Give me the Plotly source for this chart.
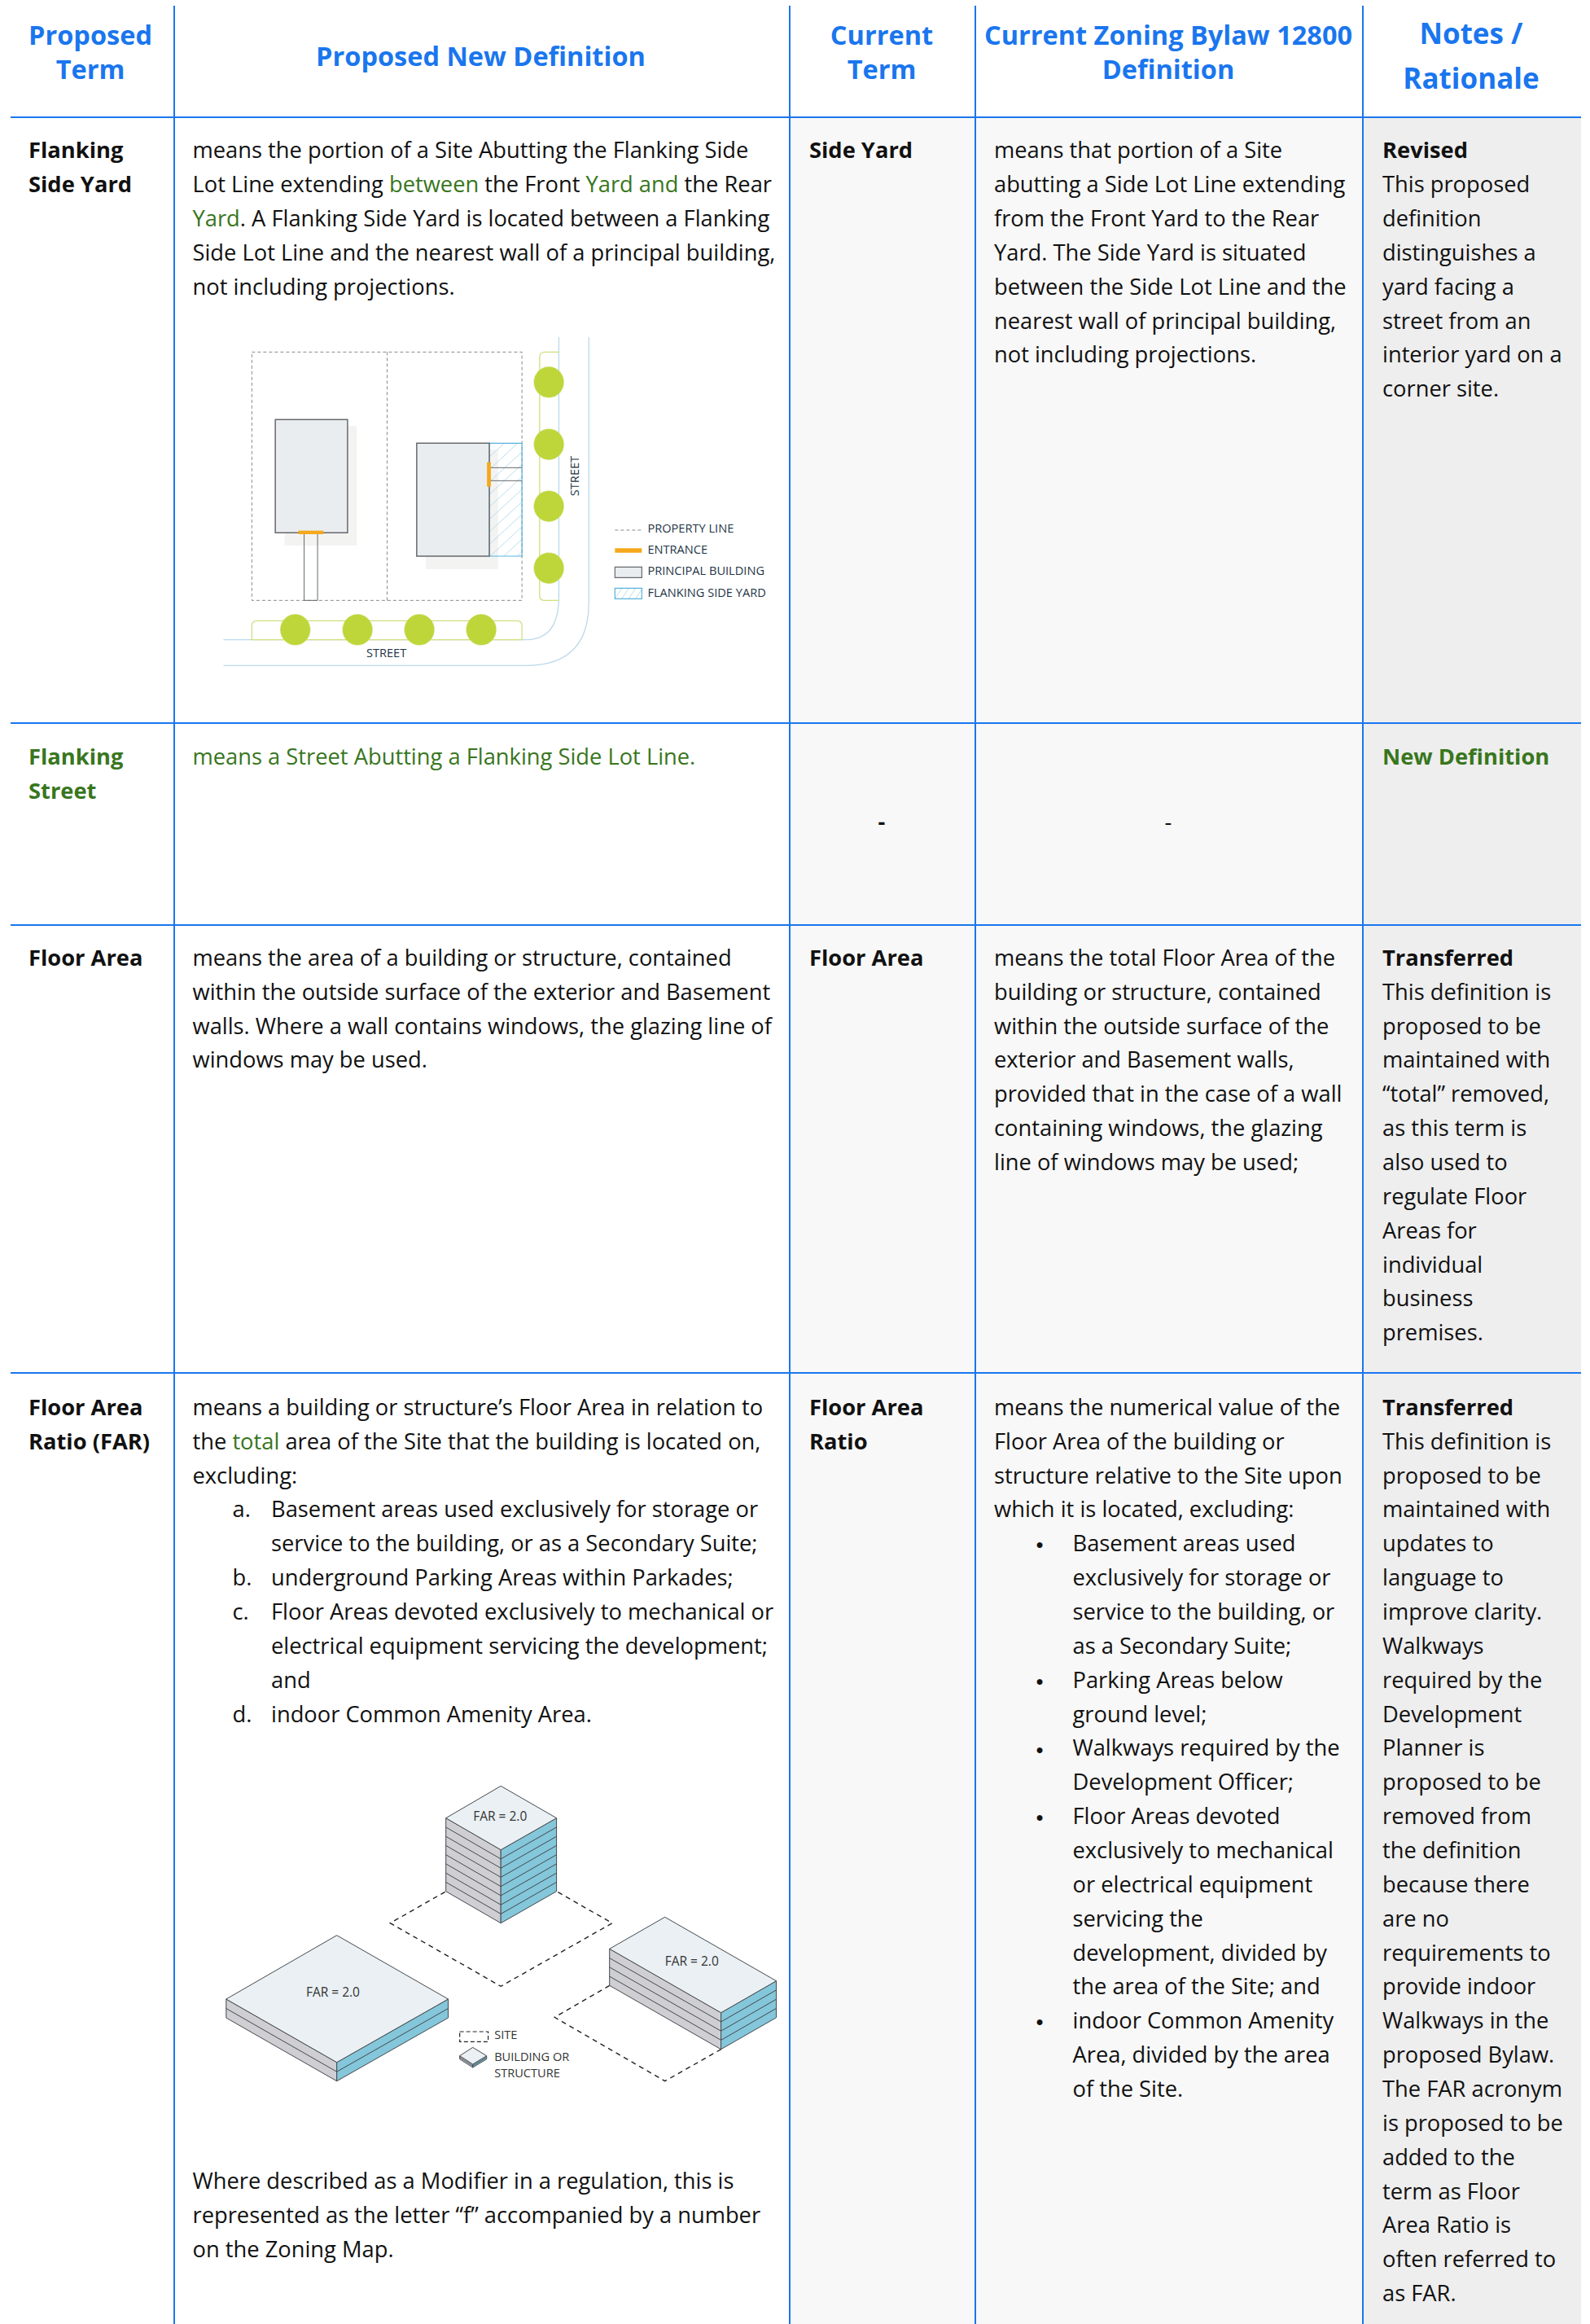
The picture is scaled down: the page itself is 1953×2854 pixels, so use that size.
import plotly.graph_objects as go

# ---------- table content ----------
header_terms = [["Proposed", "Term"], ["Proposed New Definition"], ["Current", "Term"],
                ["Current Zoning Bylaw 12800", "Definition"], ["Notes /", "Rationale"]]
G = '<span style="color:#38761d">'
E = '</span>'
r1_term = ["Flanking", "Side Yard"]
r1_def = ["means the portion of a Site Abutting the Flanking Side",
          f"Lot Line extending {G}between{E} the Front {G}Yard and{E} the Rear",
          f"{G}Yard{E}. A Flanking Side Yard is located between a Flanking",
          "Side Lot Line and the nearest wall of a principal building,",
          "not including projections."]
r1_cur = ["Side Yard"]
r1_curdef = ["means that portion of a Site", "abutting a Side Lot Line extending",
             "from the Front Yard to the Rear", "Yard. The Side Yard is situated",
             "between the Side Lot Line and the", "nearest wall of principal building,",
             "not including projections."]
r1_note_head = "Revised"
r1_note = ["This proposed", "definition", "distinguishes a", "yard facing a", "street from an",
           "interior yard on a", "corner site."]
r2_term = ["Flanking", "Street"]
r2_def = ["means a Street Abutting a Flanking Side Lot Line."]
r2_note_head = "New Definition"
r3_term = ["Floor Area"]
r3_def = ["means the area of a building or structure, contained",
          "within the outside surface of the exterior and Basement",
          "walls. Where a wall contains windows, the glazing line of",
          "windows may be used."]
r3_curdef = ["means the total Floor Area of the", "building or structure, contained",
             "within the outside surface of the", "exterior and Basement walls,",
             "provided that in the case of a wall", "containing windows, the glazing",
             "line of windows may be used;"]
r3_note_head = "Transferred"
r3_note = ["This definition is", "proposed to be", "maintained with", "“total” removed,",
           "as this term is", "also used to", "regulate Floor", "Areas for", "individual",
           "business", "premises."]
r4_term = ["Floor Area", "Ratio (FAR)"]
r4_def = ["means a building or structure’s Floor Area in relation to",
          f"the {G}total{E} area of the Site that the building is located on,",
          "excluding:"]
r4_markers = ["a.", "", "b.", "c.", "", "", "d."]
r4_items = ["Basement areas used exclusively for storage or",
            "service to the building, or as a Secondary Suite;",
            "underground Parking Areas within Parkades;",
            "Floor Areas devoted exclusively to mechanical or",
            "electrical equipment servicing the development;",
            "and", "indoor Common Amenity Area."]
r4_modifier = ["Where described as a Modifier in a regulation, this is",
               "represented as the letter “f” accompanied by a number",
               "on the Zoning Map."]
r4_cur = ["Floor Area", "Ratio"]
r4_curdef = ["means the numerical value of the", "Floor Area of the building or",
             "structure relative to the Site upon", "which it is located, excluding:"]
r4_bullets = ["●", "", "", "", "●", "", "●", "", "●", "", "", "", "", "", "●", "", ""]
r4_bullet_items = ["Basement areas used", "exclusively for storage or", "service to the building, or",
                   "as a Secondary Suite;", "Parking Areas below", "ground level;",
                   "Walkways required by the", "Development Officer;", "Floor Areas devoted",
                   "exclusively to mechanical", "or electrical equipment", "servicing the",
                   "development, divided by", "the area of the Site; and", "indoor Common Amenity",
                   "Area, divided by the area", "of the Site."]
r4_note_head = "Transferred"
r4_note = ["This definition is", "proposed to be", "maintained with", "updates to", "language to",
           "improve clarity.", "Walkways", "required by the", "Development", "Planner is",
           "proposed to be", "removed from", "the definition", "because there", "are no",
           "requirements to", "provide indoor", "Walkways in the", "proposed Bylaw.",
           "The FAR acronym", "is proposed to be", "added to the", "term as Floor",
           "Area Ratio is", "often referred to", "as FAR."]

site_legend = ["PROPERTY LINE", "ENTRANCE", "PRINCIPAL BUILDING", "FLANKING SIDE YARD"]
far_label = "FAR = 2.0"
far_legend = ["SITE", "BUILDING OR", "STRUCTURE"]

# ---------- layout ----------
W, H = 1953, 2854
BLUE = "#1a76ee"; GREEN = "#38761d"; BLACK = "#111111"
V_LINES = [214, 970, 1198, 1674]
H_LINES = [144, 888, 1136, 1686]
LEFT, RIGHT, TOP = 13, 1942, 7
PITCH = 41.86
FS = 27.3
X1, X2, X3, X4, X5 = 35, 236.5, 994, 1221, 1698
ROW = [187.5, 932, 1179, 1731]

shapes = []
def rect(x0, y0, x1, y1, fill="rgba(0,0,0,0)", color="rgba(0,0,0,0)", width=0, dash="solid"):
    shapes.append(dict(type="rect", xref="x", yref="y", x0=x0, y0=y0, x1=x1, y1=y1,
                       fillcolor=fill, line=dict(color=color, width=width, dash=dash), layer="below"))
def path(d, fill=None, color="#444", width=1, dash="solid"):
    s = dict(type="path", xref="x", yref="y", path=d, line=dict(color=color, width=width, dash=dash), layer="below")
    if fill: s["fillcolor"] = fill
    shapes.append(s)
def line(x0, y0, x1, y1, color="#444", width=1, dash="solid"):
    shapes.append(dict(type="line", xref="x", yref="y", x0=x0, y0=y0, x1=x1, y1=y1,
                       line=dict(color=color, width=width, dash=dash), layer="below"))
def ell(cx, cy, rx, ry, fill):
    shapes.append(dict(type="circle", xref="x", yref="y", x0=cx-rx, x1=cx+rx, y0=cy-ry, y1=cy+ry,
                       fillcolor=fill, line=dict(color="#dfe9a8", width=1, dash="dot"), layer="below"))
def poly(pts, fill=None, color="#444", width=1, dash="solid", close=True):
    d = "M" + " L".join(f"{x:.1f},{y:.1f}" for x, y in pts) + (" Z" if close else "")
    path(d, fill, color, width, dash)

# cell backgrounds
rect(970, 144, 1674, H, fill="#f8f8f8")
rect(1674, 144, RIGHT, H, fill="#eeeeee")
# rules
for x in V_LINES:
    line(x, TOP, x, H, BLUE, 2)
for y in H_LINES:
    line(LEFT, y, RIGHT, y, BLUE, 2)

# ---------- site plan ----------
def sx(z): return 240 + z / 2.119
def sy(z): return 400 + z / 3.0
STREET = "#bcd9ec"; BLVD = "#cfe07e"; TREE = "#bed63a"; DASH = "#8a8a8a"; ORANGE = "#f5a81c"; HATCH = "#59b3dd"
WALL = "#666a6e"; BFILL = "#e9edef"; SHADOW = "#f3f3f2"
# streets
path(f"M{sx(946)},{sy(42)} L{sx(946)},{sy(1000)} Q{sx(946)},{sy(1157)} {sx(860)},{sy(1157)} L{sx(73)},{sy(1157)}", None, STREET, 1.3)
path(f"M{sx(1024)},{sy(42)} L{sx(1024)},{sy(1020)} Q{sx(1024)},{sy(1252)} {sx(860)},{sy(1252)} L{sx(73)},{sy(1252)}", None, STREET, 1.3)
# boulevards
path(f"M{sx(946)},{sy(97)} L{sx(910)},{sy(97)} Q{sx(896)},{sy(97)} {sx(896)},{sy(115)} L{sx(896)},{sy(995)} Q{sx(896)},{sy(1012)} {sx(910)},{sy(1012)} L{sx(946)},{sy(1012)}", None, BLVD, 1.3)
path(f"M{sx(147)},{sy(1157)} L{sx(147)},{sy(1105)} Q{sx(147)},{sy(1087)} {sx(162)},{sy(1087)} L{sx(835)},{sy(1087)} Q{sx(850)},{sy(1087)} {sx(850)},{sy(1105)} L{sx(850)},{sy(1157)} Z", None, BLVD, 1.3)
# property lines
rect(sx(147), sy(97), sx(850), sy(1012), color=DASH, width=1, dash="4px,3px")
line(sx(499), sy(97), sx(499), sy(1012), DASH, 1, "4px,3px")
# left building
rect(sx(232), sy(370), sx(420), sy(810), fill=SHADOW)
rect(sx(208), sy(346), sx(396), sy(763), fill=BFILL, color=WALL, width=1.5)
rect(sx(283), sy(763), sx(318), sy(1012), color=WALL, width=1)
rect(sx(268), sy(755), sx(333), sy(768), fill=ORANGE)
# right building
rect(sx(600), sy(457), sx(788), sy(897), fill=SHADOW)
for k in range(-60, 500, 46):
    x_a, y_a = 765, 433 + k + 85 * 1.3
    y_b = 433 + k
    ya = min(max(y_a, 433), 849); yb = min(max(y_b, 433), 849)
    xa = 765 + (433 + k + 110.5 - ya) / 1.3
    xb = 765 + (433 + k + 110.5 - yb) / 1.3
    line(sx(xa), sy(ya), sx(xb), sy(yb), "#a9d6ec", 0.8)
rect(sx(765), sy(433), sx(850), sy(849), color=HATCH, width=1.2)
rect(sx(576), sy(433), sx(765), sy(849), fill=BFILL, color=WALL, width=1.5)
line(sx(765), sy(523), sx(850), sy(523), WALL, 1)
line(sx(765), sy(571), sx(850), sy(571), WALL, 1)
rect(sx(759), sy(503), sx(769), sy(593), fill=ORANGE)
# trees
for cy in [208, 437, 665, 893]:
    ell(sx(920), sy(cy), 18.5, 19, TREE)
for cx in [260, 422, 583, 744]:
    ell(sx(cx), sy(1120), 18.5, 19, TREE)
# legend
line(sx(1092), sy(753), sx(1162), sy(753), DASH, 1, "4px,3px")
rect(sx(1092), sy(820), sx(1162), sy(836), fill=ORANGE)
rect(sx(1092), sy(889), sx(1162), sy(928), fill=BFILL, color=WALL, width=1.2)
for k in range(4):
    line(sx(1092 + k * 18), sy(1006), sx(1092 + 18 + k * 18), sy(967), "#a9d6ec", 0.8)
rect(sx(1092), sy(967), sx(1162), sy(1006), color=HATCH, width=1.2)

# ---------- FAR isometric ----------
def fx(z): return 240 + z / 2.119
def fy(z): return 2170 + z / 3.0
TOPC = "#eaf0f3"; LFACE = "#cfcfd3"; RFACE = "#84c6da"; EDGE = "#45494d"
def iso(t, l, r, b, depth, floors):
    pts = lambda L: [(fx(a), fy(c)) for a, c in L]
    poly(pts([l, b, (b[0], b[1] + depth), (l[0], l[1] + depth)]), LFACE, EDGE, 1)
    poly(pts([b, r, (r[0], r[1] + depth), (b[0], b[1] + depth)]), RFACE, EDGE, 1)
    for i in range(1, floors):
        d = depth * i / floors
        poly(pts([(l[0], l[1] + d), (b[0], b[1] + d), (r[0], r[1] + d)]), None, EDGE, 1, close=False)
    poly(pts([t, r, b, l]), TOPC, EDGE, 1)
sdash = "6px,5px"
dash_pts = lambda L: [(fx(a), fy(c)) for a, c in L]
poly(dash_pts([(650, 460), (507, 575), (795, 808), (1085, 575), (940, 458)]), None, "#222", 1.4, sdash, close=False)
poly(dash_pts([(1078, 805), (935, 922), (1222, 1157), (1368, 1040)]), None, "#222", 1.4, sdash, close=False)
iso((795, 70), (652, 188), (940, 188), (795, 305), 270, 8)
iso((368, 620), (80, 855), (658, 855), (368, 1088), 69, 2)
iso((1222, 553), (1078, 670), (1512, 788), (1368, 905), 135, 4)
rect(fx(688), fy(975), fx(762), fy(1012), color="#222", width=1.2, dash="5px,3px")
iso((722, 1033), (688, 1064), (758, 1064), (722, 1095), 12, 2)

# ---------- text ----------
tx, ty, tt, ts, tc, tp = [], [], [], [], [], []
def put(x, y, s, size=FS, color=BLACK, pos="middle right", bold=False):
    if not s:
        return
    tx.append(x); ty.append(y); tt.append(f"<b>{s}</b>" if bold else s)
    ts.append(size); tc.append(color); tp.append(pos)
def block(x, y0, lines, **kw):
    for i, s in enumerate(lines):
        put(x, y0 + i * PITCH, s, **kw)

HFS = 32.5
block(111, 47, header_terms[0], size=HFS, color=BLUE, pos="middle center", bold=True)
block(590.5, 72.5, header_terms[1], size=HFS, color=BLUE, pos="middle center", bold=True)
block(1083, 47, header_terms[2], size=HFS, color=BLUE, pos="middle center", bold=True)
block(1435, 47, header_terms[3], size=HFS, color=BLUE, pos="middle center", bold=True)
put(1807, 45.5, header_terms[4][0], size=35, color=BLUE, pos="middle center", bold=True)
put(1807, 100, header_terms[4][1], size=35, color=BLUE, pos="middle center", bold=True)

block(X1, ROW[0], r1_term, bold=True)
block(X2, ROW[0], r1_def)
block(X3, ROW[0], r1_cur, bold=True)
block(X4, ROW[0], r1_curdef)
put(X5, ROW[0], r1_note_head, bold=True)
block(X5, ROW[0] + PITCH, r1_note)

block(X1, ROW[1], r2_term, color=GREEN, bold=True)
block(X2, ROW[1], r2_def, color=GREEN)
put(1083, 1012, "-", pos="middle center", bold=True)
put(1435, 1012, "-", pos="middle center")
put(X5, ROW[1], r2_note_head, color=GREEN, bold=True)

block(X1, ROW[2], r3_term, bold=True)
block(X2, ROW[2], r3_def)
block(X3, ROW[2], r3_term, bold=True)
block(X4, ROW[2], r3_curdef)
put(X5, ROW[2], r3_note_head, bold=True)
block(X5, ROW[2] + PITCH, r3_note)

block(X1, ROW[3], r4_term, bold=True)
block(X2, ROW[3], r4_def)
y_list = ROW[3] + 3 * PITCH
block(285.5, y_list, r4_markers)
block(333, y_list, r4_items)
block(X2, 2681, r4_modifier)
block(X3, ROW[3], r4_cur, bold=True)
block(X4, ROW[3], r4_curdef)
y_bul = ROW[3] + 4 * PITCH
block(1277, y_bul, r4_bullets, size=16, pos="middle center")
block(1317.5, y_bul, r4_bullet_items)
put(X5, ROW[3], r4_note_head, bold=True)
block(X5, ROW[3] + PITCH, r4_note)

# diagram labels
NAVY = "#1f3547"
for zy, s in zip([751, 828, 908, 987], site_legend):
    put(sx(1177), sy(zy), s, size=14.6, color=NAVY)
put(sx(497), sy(1210), "STREET", size=14.6, color=NAVY, pos="middle center")
for zx, zy in [(793, 186), (358, 835), (1292, 720)]:
    put(fx(zx), fy(zy), far_label, size=15.5, color="#333", pos="middle center")
put(fx(778), fy(992), far_legend[0], size=14.6, color="#333")
put(fx(778), fy(1072), far_legend[1], size=14.6, color="#333")
put(fx(778), fy(1132), far_legend[2], size=14.6, color="#333")

fig = go.Figure(go.Scatter(x=tx, y=ty, mode="text", text=tt, textposition=tp,
                           textfont=dict(family="Open Sans", size=ts, color=tc),
                           hoverinfo="skip", showlegend=False, cliponaxis=False))
fig.update_layout(
    width=W, height=H, autosize=False, margin=dict(l=0, r=0, t=0, b=0),
    paper_bgcolor="white", plot_bgcolor="white", showlegend=False, shapes=shapes,
    font=dict(family="Open Sans"),
    xaxis=dict(range=[0, W], visible=False, fixedrange=True),
    yaxis=dict(range=[H, 0], visible=False, fixedrange=True),
    annotations=[dict(x=sx(985), y=sy(553), xref="x", yref="y", text="STREET", textangle=-90,
                      showarrow=False, font=dict(family="Open Sans", size=14.6, color=NAVY))],
)
fig.write_html("out.html", post_script="document.body.style.margin='0';document.documentElement.style.overflow='hidden';",
               config={"displayModeBar": False})
